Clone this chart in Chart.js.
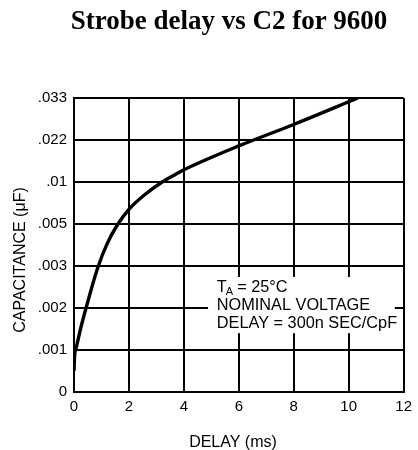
<!DOCTYPE html>
<html><head><meta charset="utf-8">
<script src="https://cdn.jsdelivr.net/npm/chart.js@4"></script>
<style>html,body{margin:0;padding:0;background:#fff}</style>
</head><body><canvas id="c" width="418" height="450"></canvas>
<script>
// Y axis is drawn with equally spaced, non-linear tick values
const yTickValues = [0, 0.001, 0.002, 0.003, 0.005, 0.01, 0.022, 0.033];
const yTickLabels = ['0', '.001', '.002', '.003', '.005', '.01', '.022', '.033'];
const xTickStep = 2;
// Curve: delay (ms) vs capacitance (uF)
const delayMs       = [0, 0.02, 0.07, 0.26, 0.46, 0.66, 0.87, 1.2, 1.57, 2.0, 2.56, 3.21, 3.69, 4.0, 6.0, 8.0, 10.33];
const capacitanceUF = [0.0005, 0.00085, 0.00102, 0.00156, 0.00205, 0.00252, 0.00297, 0.00404, 0.00494, 0.00675, 0.00845, 0.01, 0.01216, 0.01348, 0.02032, 0.02607, 0.033];
const noteLines = ['= 25°C', 'NOMINAL VOLTAGE', 'DELAY = 300n SEC/CpF'];
const chartTitle = 'Strobe delay vs C2 for 9600';
const xTitle = 'DELAY (ms)';
const yTitle = 'CAPACITANCE (μF)';

// map a capacitance to the grid position of the chart's equally spaced axis
function axisPos(v){
  for (let i = 0; i < yTickValues.length - 1; i++){
    const a = yTickValues[i], b = yTickValues[i+1];
    if (v <= b) return i + (v - a) / (b - a);
  }
  return yTickValues.length - 1;
}

const SANS = '"Liberation Sans", Arial, sans-serif';

const notePlugin = {
  id: 'note',
  beforeDatasetsDraw(chart){
    const {ctx, scales:{x, y}} = chart;
    const l = x.getPixelForValue(4.88), r = x.getPixelForValue(11.68);
    const t = y.getPixelForValue(2.74), b = y.getPixelForValue(1.40);
    ctx.save();
    ctx.fillStyle = '#fff';
    ctx.fillRect(l, t, r - l, b - t);
    ctx.fillStyle = '#000';
    ctx.textBaseline = 'alphabetic';
    ctx.textAlign = 'left';
    const tx = x.getPixelForValue(5.2);
    const base = t + 15;
    ctx.font = '16.3px ' + SANS;
    ctx.fillText('T', tx, base);
    const tw = ctx.measureText('T').width;
    ctx.font = '11px ' + SANS;
    ctx.fillText('A', tx + tw - 1, base + 3.5);
    const aw = ctx.measureText('A').width;
    ctx.font = '16.3px ' + SANS;
    ctx.fillText(' ' + noteLines[0], tx + tw + aw - 1.5, base);
    ctx.fillText(noteLines[1], tx, base + 18.5);
    ctx.fillText(noteLines[2], tx, base + 36.5);
    ctx.restore();
  }
};

const textPlugin = {
  id: 'texts',
  afterDraw(chart){
    const ctx = chart.ctx;
    ctx.save();
    ctx.fillStyle = '#000';
    ctx.font = 'bold 27px "Liberation Serif", "Times New Roman", serif';
    ctx.textAlign = 'center';
    ctx.textBaseline = 'alphabetic';
    ctx.fillText(chartTitle, 229, 29, 318);
    ctx.font = '16px ' + SANS;
    ctx.textBaseline = 'middle';
    ctx.fillText(xTitle, 233, 443);
    ctx.translate(20.5, 260);
    ctx.rotate(-Math.PI / 2);
    ctx.fillText(yTitle, 0, 0);
    ctx.restore();
  }
};

new Chart(document.getElementById('c'), {
  type: 'line',
  data: {
    datasets: [{
      data: delayMs.map((d, i) => ({x: d, y: axisPos(capacitanceUF[i])})),
      borderColor: '#000',
      borderWidth: 3.4,
      pointRadius: 0,
      tension: 0.4,
      cubicInterpolationMode: 'monotone',
      fill: false
    }]
  },
  options: {
    responsive: false,
    animation: false,
    devicePixelRatio: 1,
    layout: {padding: {top: 98, right: 7, left: 0, bottom: 0}},
    plugins: {legend: {display: false}, tooltip: {enabled: false}, title: {display: false}},
    scales: {
      x: {
        type: 'linear', min: 0, max: 12,
        ticks: {stepSize: xTickStep, color: '#000', font: {family: 'Liberation Sans', size: 15}, padding: 6, maxRotation: 0},
        grid: {color: '#000', lineWidth: 2, drawTicks: false},
        border: {color: '#000', width: 2},
        afterFit: s => { s.height = 58; }
      },
      y: {
        type: 'linear', min: 0, max: yTickValues.length - 1,
        ticks: {stepSize: 1, color: '#000', font: {family: 'Liberation Sans', size: 15}, padding: 7,
                callback: v => yTickLabels[v]},
        grid: {color: '#000', lineWidth: 2, drawTicks: false},
        border: {color: '#000', width: 2},
        afterFit: s => { s.width = 74; }
      }
    }
  },
  plugins: [notePlugin, textPlugin]
});
</script>
</body></html>
